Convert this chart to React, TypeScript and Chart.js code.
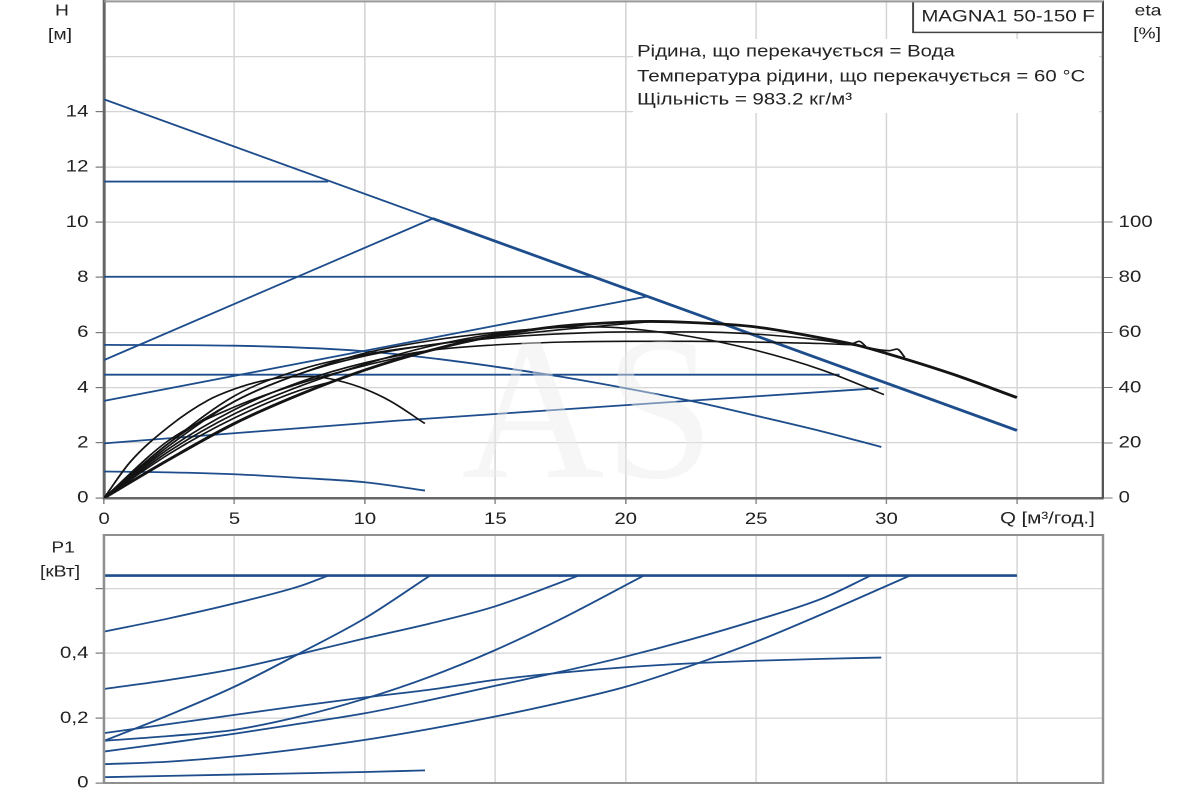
import { useEffect, useRef } from "react";
import { Chart, registerables } from "chart.js";

Chart.register(...registerables);

// axis labels
const flowTicks = [0, 5, 10, 15, 20, 25, 30];
const headTicks = [0, 2, 4, 6, 8, 10, 12, 14];
const etaTicks = [0, 20, 40, 60, 80, 100];
const powerTicks = [0, 0.2, 0.4];
const powerTickLabels = ["0", "0,2", "0,4"];

// H, m  (Q in m³/h)
const maxQ = [0, 35];
const maxH = [14.45, 2.45];
const maxJoinQ = [12.6, 35];
const maxJoinH = [10.13, 2.45];
const cp115Q = [0, 8.6];
const cp115H = [11.47, 11.47];
const cp8Q = [0, 18.8];
const cp8H = [8.02, 8.02];
const cp445Q = [0, 28.2];
const cp445H = [4.47, 4.47];
const pp5Q = [0, 12.6];
const pp5H = [5.0, 10.13];
const pp35Q = [0, 20.8];
const pp35H = [3.52, 7.3];
const pp2Q = [0, 11.2, 29.7];
const pp2H = [1.98, 2.8, 3.98];
const cc555Q = [0, 5, 10, 12.8, 15, 17.5, 20, 22.5, 25, 27.5, 29.8];
const cc555H = [5.55, 5.52, 5.32, 5.04, 4.76, 4.4, 3.98, 3.52, 2.98, 2.42, 1.85];
const cc1Q = [0, 2.5, 5, 7.5, 10, 12.3];
const cc1H = [0.96, 0.93, 0.86, 0.73, 0.57, 0.27];

// eta, %
const etaMaxQ = [0, 2.5, 5, 7.5, 10, 12.5, 15, 17.5, 20, 21, 22.5, 25, 27.5, 28.7, 30, 32.5, 35];
const etaMax = [0, 14, 27, 37.5, 46.4, 53.5, 58.8, 62.3, 63.8, 64, 63.6, 62, 58, 55.8, 52.4, 45, 36.4];
const etaCp115Q = [0, 2.5, 5, 7.5, 8.6];
const etaCp115 = [0, 16, 29, 39, 41.8];
const etaPp5Q = [0, 2.5, 5, 7.5, 10, 12.6];
const etaPp5 = [0, 21, 33, 41.5, 48, 53.6];
const etaCp8Q = [0, 2.5, 5, 7.5, 10, 12.5, 15, 17.5, 18.8];
const etaCp8 = [0, 17, 30.5, 40.5, 48.5, 55, 59.5, 62, 63];
const etaPp35Q = [0, 2.5, 5, 7.5, 10, 12.5, 15, 17.5, 20.8];
const etaPp35 = [0, 20, 35, 45, 51.5, 55.5, 58.5, 61, 63.8];
const etaCp445Q = [0, 2.5, 5, 7.5, 10, 12.5, 15, 17.5, 20, 22.5, 25, 27.5, 28.6, 28.95, 29.2];
const etaCp445 = [0, 18, 32, 42, 49, 53.5, 55.5, 56.5, 56.8, 56.8, 56.5, 56, 55.6, 56.8, 55];
const etaPp2Q = [0, 2.5, 5, 7.5, 10, 12.5, 15, 17.5, 20, 22.5, 25, 27.5, 29, 30.1, 30.4, 30.7];
const etaPp2 = [0, 20, 37, 46.5, 52, 55.5, 58, 59.5, 60.2, 60.2, 59.4, 57.2, 55, 53.4, 54, 51];
const etaCc555Q = [0, 2.5, 5, 7.5, 10, 12.5, 15, 17.5, 19, 20, 22.5, 25, 27.5, 29.9];
const etaCc555 = [0, 19, 35, 45, 52.5, 57, 60, 61.8, 62, 61.5, 58.5, 53.5, 46.5, 37.5];
const etaCc1Q = [0, 1, 2.5, 4, 5, 6, 7, 8, 9, 10, 11, 12.3];
const etaCc1 = [0, 13, 26, 35.5, 39.5, 42.3, 43.8, 44, 42.5, 39.5, 35, 27];

// P1, kW
const pMaxQ = [0, 35];
const pMax = [0.64, 0.64];
const pCp115Q = [0, 2.5, 5, 7.5, 8.6];
const pCp115 = [0.467, 0.508, 0.554, 0.607, 0.64];
const pPp5Q = [0, 2.5, 5, 7.5, 10, 12.5];
const pPp5 = [0.13, 0.21, 0.297, 0.4, 0.508, 0.64];
const pCp8Q = [0, 2.5, 5, 7.5, 10, 12.5, 15, 18.2];
const pCp8 = [0.29, 0.318, 0.352, 0.398, 0.446, 0.492, 0.545, 0.64];
const pPp35Q = [0, 2.5, 5, 7.5, 10, 12.5, 15, 17.5, 20.7];
const pPp35 = [0.13, 0.145, 0.164, 0.205, 0.26, 0.328, 0.41, 0.505, 0.64];
const pCp445Q = [0, 2.5, 5, 7.5, 10, 12.5, 15, 17.5, 20, 22.5, 25, 27.5, 29.4];
const pCp445 = [0.097, 0.124, 0.152, 0.183, 0.215, 0.256, 0.3, 0.343, 0.39, 0.443, 0.502, 0.568, 0.64];
const pCc555Q = [0, 2.5, 5, 7.5, 10, 12.5, 15, 17.5, 20, 22.5, 25, 27.5, 29.8];
const pCc555 = [0.154, 0.182, 0.21, 0.238, 0.264, 0.288, 0.318, 0.34, 0.357, 0.369, 0.377, 0.383, 0.387];
const pPp2Q = [0, 2.5, 5, 7.5, 10, 12.5, 15, 17.5, 20, 22.5, 25, 27.5, 30.9];
const pPp2 = [0.058, 0.066, 0.082, 0.105, 0.133, 0.167, 0.205, 0.248, 0.297, 0.362, 0.436, 0.52, 0.64];
const pCc1Q = [0, 5, 10, 12.3];
const pCc1 = [0.018, 0.026, 0.034, 0.039];

const BLUE = "#1e4d8c";
const BLACK = "#141414";
const GRID = "#d4d4d4";
const FONT = "'Liberation Sans', Arial, sans-serif";
// the picture is stretched sideways, so the charts are drawn 1000 wide and scaled
const STRETCH = 1.2;

const line = (q: number[], v: number[], color: string, width: number, yAxisID: string, order: number) => ({
  data: q.map((x, i) => ({ x, y: v[i] })),
  borderColor: color,
  borderWidth: width,
  pointRadius: 0,
  fill: false,
  cubicInterpolationMode: "monotone" as const,
  yAxisID,
  order,
});

// keep the plot area where the axis sizes say, without room for end labels
const fixSize = (w?: number, h?: number) => (s: any) => {
  if (w !== undefined) s.width = w;
  if (h !== undefined) s.height = h;
  s.paddingTop = 0;
  s.paddingBottom = 0;
  s.paddingLeft = 0;
  s.paddingRight = 0;
};

const headDecor = {
  id: "headDecor",
  beforeDatasetsDraw(chart: any) {
    const { ctx, chartArea } = chart;
    ctx.save();
    // info text block
    ctx.fillStyle = "#fff";
    ctx.fillRect(633 / STRETCH, 39, 466 / STRETCH, 74);
    ctx.fillStyle = "#222";
    ctx.font = `17px ${FONT}`;
    ctx.textAlign = "left";
    ctx.textBaseline = "middle";
    ctx.fillText("Рідина, що перекачується = Вода", 637 / STRETCH, 52);
    ctx.fillText("Температура рідини, що перекачується = 60 °C", 637 / STRETCH, 77);
    ctx.fillText("Щільність = 983.2 кг/м³", 637 / STRETCH, 100);
    // model box
    const bx = 913 / STRETCH;
    ctx.fillStyle = "#fff";
    ctx.fillRect(bx, chartArea.top, chartArea.right - bx, 31);
    ctx.strokeStyle = "#444";
    ctx.lineWidth = 1.5;
    ctx.strokeRect(bx, chartArea.top, chartArea.right - bx, 31);
    ctx.fillStyle = "#222";
    ctx.textAlign = "center";
    ctx.fillText("MAGNA1 50-150 F", (bx + chartArea.right) / 2, 17);
    ctx.restore();
  },
  afterDatasetsDraw(chart: any) {
    const { ctx } = chart;
    ctx.save();
    ctx.font = `205px 'Liberation Serif', serif`;
    const w = ctx.measureText("AS").width;
    ctx.translate(588 / STRETCH, 477);
    ctx.scale(253 / STRETCH / w, 1);
    ctx.fillStyle = "rgba(236,236,236,0.45)";
    ctx.textAlign = "center";
    ctx.textBaseline = "alphabetic";
    ctx.fillText("AS", 0, 0);
    ctx.restore();
  },
  afterDraw(chart: any) {
    const { ctx, chartArea } = chart;
    ctx.save();
    ctx.strokeStyle = "#999";
    ctx.lineWidth = 2;
    ctx.beginPath();
    ctx.moveTo(chartArea.left, chartArea.top);
    ctx.lineTo(chartArea.right, chartArea.top);
    ctx.stroke();
    ctx.fillStyle = "#222";
    ctx.font = `16px ${FONT}`;
    ctx.textAlign = "center";
    ctx.textBaseline = "middle";
    ctx.fillText("H", 62 / STRETCH, 11);
    ctx.fillText("[м]", 60 / STRETCH, 35);
    ctx.fillText("eta", 1148 / STRETCH, 11);
    ctx.fillText("[%]", 1147 / STRETCH, 34);
    ctx.font = `17px ${FONT}`;
    ctx.textAlign = "left";
    ctx.fillText("Q [м³/год.]", 1000 / STRETCH, 519);
    ctx.restore();
  },
};

const powerDecor = {
  id: "powerDecor",
  afterDraw(chart: any) {
    const { ctx, chartArea } = chart;
    ctx.save();
    ctx.strokeStyle = "#8f8f8f";
    ctx.lineWidth = 2;
    ctx.strokeRect(chartArea.left, chartArea.top, chartArea.right - chartArea.left, chartArea.bottom - chartArea.top);
    ctx.fillStyle = "#222";
    ctx.font = `16px ${FONT}`;
    ctx.textAlign = "center";
    ctx.textBaseline = "middle";
    ctx.fillText("P1", 63 / STRETCH, 18);
    ctx.fillText("[кВт]", 60 / STRETCH, 42);
    ctx.restore();
  },
};

const tickFont = { family: FONT, size: 17 };

export default function App() {
  const headRef = useRef<HTMLCanvasElement>(null);
  const powerRef = useRef<HTMLCanvasElement>(null);

  useEffect(() => {
    if (!headRef.current || !powerRef.current) return;

    const head = new Chart(headRef.current, {
      type: "line",
      data: {
        datasets: [
          line(etaMaxQ, etaMax, BLACK, 2.8, "eta", 0),
          line(etaCp115Q, etaCp115, BLACK, 1.6, "eta", 0),
          line(etaPp5Q, etaPp5, BLACK, 1.6, "eta", 0),
          line(etaCp8Q, etaCp8, BLACK, 1.6, "eta", 0),
          line(etaPp35Q, etaPp35, BLACK, 1.6, "eta", 0),
          line(etaCp445Q, etaCp445, BLACK, 1.6, "eta", 0),
          line(etaPp2Q, etaPp2, BLACK, 1.6, "eta", 0),
          line(etaCc555Q, etaCc555, BLACK, 1.6, "eta", 0),
          line(etaCc1Q, etaCc1, BLACK, 1.6, "eta", 0),
          line(maxJoinQ, maxJoinH, BLUE, 2.8, "y", 1),
          line(maxQ, maxH, BLUE, 1.8, "y", 1),
          line(cp115Q, cp115H, BLUE, 1.8, "y", 1),
          line(cp8Q, cp8H, BLUE, 1.8, "y", 1),
          line(cp445Q, cp445H, BLUE, 1.8, "y", 1),
          line(pp5Q, pp5H, BLUE, 1.8, "y", 1),
          line(pp35Q, pp35H, BLUE, 1.8, "y", 1),
          line(pp2Q, pp2H, BLUE, 1.8, "y", 1),
          line(cc555Q, cc555H, BLUE, 1.8, "y", 1),
          line(cc1Q, cc1H, BLUE, 1.8, "y", 1),
        ],
      },
      options: {
        responsive: true,
        maintainAspectRatio: false,
        animation: false,
        devicePixelRatio: 2,
        layout: { padding: { top: 1, left: 0, right: 0, bottom: 0 } },
        plugins: { legend: { display: false }, tooltip: { enabled: false } },
        scales: {
          x: {
            type: "linear",
            min: 0,
            max: 38.3,
            ticks: {
              stepSize: 5,
              autoSkip: false,
              maxRotation: 0,
              padding: 5,
              color: "#222",
              font: tickFont,
              callback: (v: any) => (flowTicks.includes(v) ? String(v) : ""),
            },
            grid: {
              color: GRID,
              lineWidth: 1.2,
              tickLength: 6,
              tickColor: (c: any) => (c.tick && c.tick.value <= 35 ? "#888" : "transparent"),
            },
            border: { color: "#666", width: 2.5 },
            afterFit: fixSize(undefined, 32),
          },
          y: {
            position: "left",
            min: 0,
            max: 18,
            ticks: {
              stepSize: 2,
              autoSkip: false,
              padding: 6,
              color: "#222",
              font: tickFont,
              callback: (v: any) => (headTicks.includes(v) ? String(v) : ""),
            },
            grid: {
              color: GRID,
              lineWidth: 1.2,
              tickLength: 7,
              tickColor: (c: any) => (c.tick && headTicks.includes(c.tick.value) ? "#777" : "transparent"),
            },
            border: { color: "#666", width: 2.5 },
            afterFit: fixSize(104 / STRETCH),
          },
          eta: {
            position: "right",
            min: 0,
            max: 180,
            ticks: {
              stepSize: 20,
              autoSkip: false,
              padding: 5,
              color: "#222",
              font: tickFont,
              callback: (v: any) => (etaTicks.includes(v) ? String(v) : ""),
            },
            grid: {
              drawOnChartArea: false,
              tickLength: 8,
              tickColor: (c: any) => (c.tick && etaTicks.includes(c.tick.value) ? "#777" : "transparent"),
            },
            border: { color: "#555", width: 2 },
            afterFit: fixSize(97 / STRETCH),
          },
        },
      },
      plugins: [headDecor],
    } as any);

    const power = new Chart(powerRef.current, {
      type: "line",
      data: {
        datasets: [
          line(pMaxQ, pMax, BLUE, 2.6, "y", 0),
          line(pCp115Q, pCp115, BLUE, 1.8, "y", 1),
          line(pPp5Q, pPp5, BLUE, 1.8, "y", 1),
          line(pCp8Q, pCp8, BLUE, 1.8, "y", 1),
          line(pPp35Q, pPp35, BLUE, 1.8, "y", 1),
          line(pCp445Q, pCp445, BLUE, 1.8, "y", 1),
          line(pCc555Q, pCc555, BLUE, 1.8, "y", 1),
          line(pPp2Q, pPp2, BLUE, 1.8, "y", 1),
          line(pCc1Q, pCc1, BLUE, 1.8, "y", 1),
        ],
      },
      options: {
        responsive: true,
        maintainAspectRatio: false,
        animation: false,
        devicePixelRatio: 2,
        layout: { padding: { top: 5, left: 0, right: 97 / STRETCH, bottom: 0 } },
        plugins: { legend: { display: false }, tooltip: { enabled: false } },
        scales: {
          x: {
            type: "linear",
            min: 0,
            max: 38.3,
            ticks: { stepSize: 5, display: false },
            grid: { color: GRID, lineWidth: 1.2, drawTicks: false },
            border: { color: "#8f8f8f", width: 2 },
            afterFit: fixSize(undefined, 17),
          },
          y: {
            position: "left",
            min: 0,
            max: 0.765,
            ticks: {
              stepSize: 0.2,
              autoSkip: false,
              padding: 6,
              color: "#222",
              font: tickFont,
              callback: (v: any) => {
                const i = powerTicks.indexOf(Math.round(v * 10) / 10);
                return i >= 0 ? powerTickLabels[i] : "";
              },
            },
            grid: {
              color: GRID,
              lineWidth: 1.2,
              tickLength: 7,
              tickColor: (c: any) => (c.tick && c.tick.value < 0.65 ? "#777" : "transparent"),
            },
            border: { color: "#8f8f8f", width: 2 },
            afterFit: fixSize(104 / STRETCH),
          },
        },
      },
      plugins: [powerDecor],
    } as any);

    return () => {
      head.destroy();
      power.destroy();
    };
  }, []);

  const panel = (top: number, height: number) => ({
    position: "absolute" as const,
    left: 0,
    top,
    width: 1000,
    height,
    transform: `scaleX(${STRETCH})`,
    transformOrigin: "0 0",
  });

  return (
    <div style={{ position: "fixed", left: 0, top: 0, width: 1200, height: 800, background: "#fff", overflow: "hidden" }}>
      <div style={panel(0, 530)}>
        <canvas ref={headRef} />
      </div>
      <div style={panel(530, 270)}>
        <canvas ref={powerRef} />
      </div>
    </div>
  );
}
